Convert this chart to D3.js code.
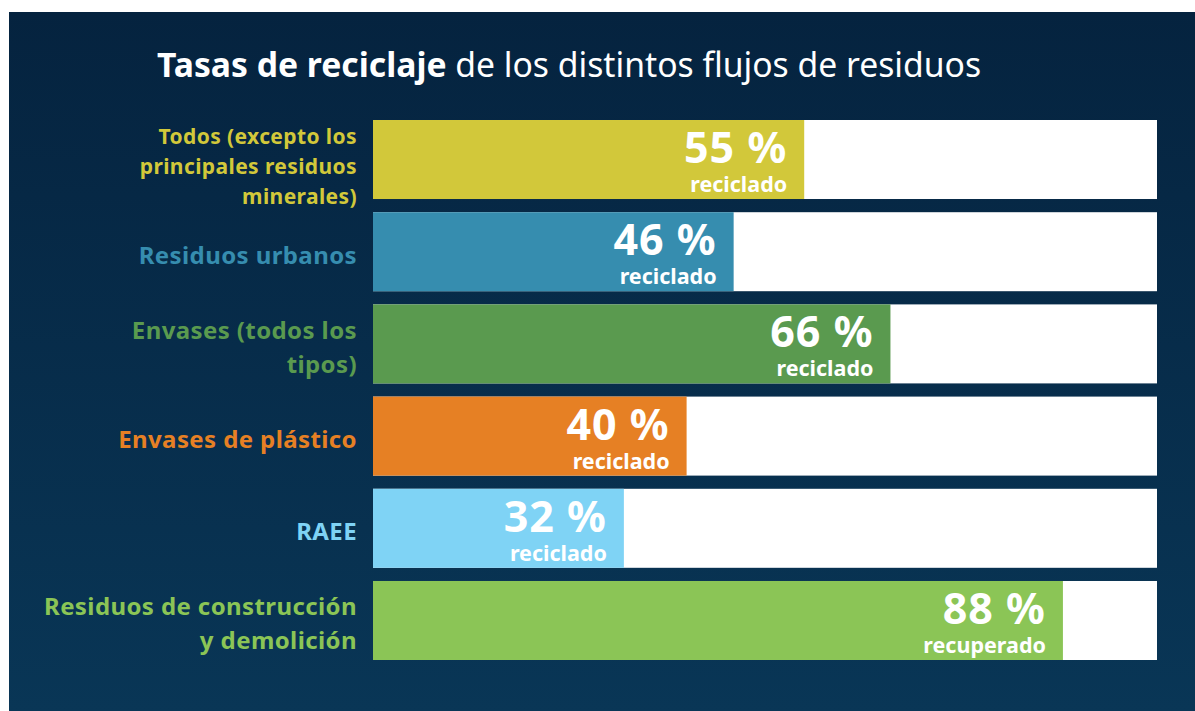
<!DOCTYPE html>
<html>
<head>
<meta charset="utf-8">
<script src="https://cdn.jsdelivr.net/npm/d3@7"></script>
<style>
  body { margin: 0; background: #ffffff; }
  text { font-family: "Noto Sans", "Open Sans", sans-serif; }
</style>
</head>
<body>
<div id="chart"></div>
<script>
// data
const categories = [
  ["Todos (excepto los", "principales residuos", "minerales)"],
  ["Residuos urbanos"],
  ["Envases (todos los", "tipos)"],
  ["Envases de plástico"],
  ["RAEE"],
  ["Residuos de construcción", "y demolición"]
];
const rates = [55, 46, 66, 40, 32, 88];
const rateLabels = ["reciclado", "reciclado", "reciclado", "reciclado", "reciclado", "recuperado"];
const colors = ["#d2c83a", "#368daf", "#5a9a4f", "#e68024", "#7fd3f5", "#8bc556"];
const titleBold = "Tasas de reciclaje";
const titleRest = " de los distintos flujos de residuos";

const W = 1195, H = 711;

const svg = d3.select("#chart")
  .append("svg")
    .attr("width", W)
    .attr("height", H);

// background gradient
const grad = svg.append("defs").append("linearGradient")
  .attr("id", "bg")
  .attr("x1", 0).attr("y1", 0).attr("x2", 0).attr("y2", 1);
grad.append("stop").attr("offset", "0%").attr("stop-color", "#05233f");
grad.append("stop").attr("offset", "100%").attr("stop-color", "#093656");

svg.append("rect")
  .attr("x", 9).attr("y", 12)
  .attr("width", W - 9).attr("height", H - 12)
  .attr("fill", "url(#bg)");

// title
const title = svg.append("text")
  .attr("x", 157)
  .attr("y", 77)
  .style("font-size", "33.7px")
  .style("fill", "#ffffff");
title.append("tspan").style("font-weight", "bold").text(titleBold);
title.append("tspan").text(titleRest);

// scales
const x = d3.scaleLinear()
  .domain([0, 100])
  .range([373, 1157]);

const y = d3.scaleBand()
  .domain(d3.range(rates.length))
  .range([120, 660])
  .paddingInner(0.143);

const rows = svg.selectAll("g.row")
  .data(rates)
  .join("g")
    .attr("class", "row");

// white track
rows.append("rect")
  .attr("x", x(0))
  .attr("y", (d, i) => y(i))
  .attr("width", x(100) - x(0))
  .attr("height", y.bandwidth())
  .attr("fill", "#ffffff");

// coloured bar
rows.append("rect")
  .attr("x", x(0))
  .attr("y", (d, i) => y(i))
  .attr("width", d => x(d) - x(0))
  .attr("height", y.bandwidth())
  .attr("fill", (d, i) => colors[i]);

// value
rows.append("text")
  .attr("x", d => x(d) - 17)
  .attr("y", (d, i) => y(i) + 43)
  .style("text-anchor", "end")
  .style("font-size", "43px")
  .style("letter-spacing", "1px")
  .style("font-weight", "bold")
  .style("fill", "#ffffff")
  .text(d => d + " %");

rows.append("text")
  .attr("x", d => x(d) - 17)
  .attr("y", (d, i) => y(i) + 72)
  .style("text-anchor", "end")
  .style("font-size", "21.5px")
  .style("font-weight", "bold")
  .style("fill", "#ffffff")
  .text((d, i) => rateLabels[i]);

// category labels, right aligned (three-line label set a bit smaller)
rows.append("text")
  .attr("x", 357)
  .style("text-anchor", "end")
  .style("font-size", (d, i) => categories[i].length > 2 ? "21px" : "24px")
  .style("letter-spacing", "0.4px")
  .style("font-weight", "bold")
  .style("fill", (d, i) => colors[i])
  .each(function(d, i) {
    const lines = categories[i];
    const lh = lines.length > 2 ? 30 : 34;
    const mid = y(i) + y.bandwidth() / 2 + (lines.length > 2 ? 14 : 12);
    d3.select(this).selectAll("tspan")
      .data(lines)
      .join("tspan")
        .attr("x", 357)
        .attr("y", (l, k) => mid + (k - (lines.length - 1) / 2) * lh)
        .text(l => l);
  });
</script>
</body>
</html>
